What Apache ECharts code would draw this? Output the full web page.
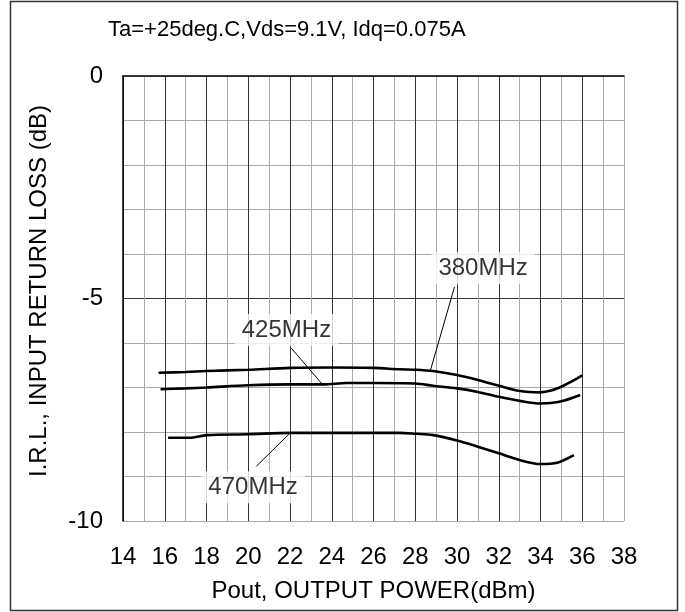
<!DOCTYPE html>
<html>
<head>
<meta charset="utf-8">
<script src="https://cdn.jsdelivr.net/npm/echarts@6/dist/echarts.min.js"></script>
<style>
html,body{margin:0;padding:0;background:#fff;}
#c{width:685px;height:612px;}
</style>
</head>
<body>
<div id="c"></div>
<script>
// ---- data ----
var titleText = 'Ta=+25deg.C,Vds=9.1V, Idq=0.075A';
var xName = 'Pout, OUTPUT POWER(dBm)';
var yName = 'I.R.L., INPUT RETURN LOSS (dB)';
var xMin = 14, xMax = 38;
var yMin = -10, yMax = 0;

var s380 = [[15.7,-6.67],[17,-6.65],[18,-6.63],[20,-6.6],[22,-6.56],[24,-6.55],[26,-6.56],[27.25,-6.59],[28,-6.6],[28.85,-6.63],[30,-6.72],[31,-6.83],[32,-6.96],[33,-7.08],[34,-7.11],[34.5,-7.07],[35.1,-6.96],[35.5,-6.86],[36,-6.73]];
var s425 = [[15.8,-7.04],[17,-7.02],[18,-7.0],[20,-6.95],[22,-6.93],[23.6,-6.93],[24.7,-6.9],[26,-6.9],[28,-6.91],[28.85,-6.96],[30,-7.02],[31,-7.1],[32,-7.21],[33,-7.3],[34,-7.36],[34.5,-7.35],[35.1,-7.3],[35.9,-7.17]];
var s470 = [[16.16,-8.13],[17.2,-8.13],[18,-8.07],[20,-8.05],[22,-8.02],[24,-8.02],[26,-8.02],[27.25,-8.02],[28,-8.04],[28.85,-8.07],[30,-8.19],[31,-8.33],[32,-8.48],[33,-8.63],[34,-8.72],[34.8,-8.69],[35.6,-8.52]];

var labelNames = ['380MHz','425MHz','470MHz'];
var labelPos = [[31.25,-4.32],[21.83,-5.71],[20.23,-9.24]];
var leader380 = [[29.88,-4.74],[28.73,-6.61]];
var leader425 = [[22.07,-6.12],[23.55,-6.93]];
var leader470 = [[21.99,-8.03],[20.39,-8.77]];

// ---- chart ----
var FONT = 'Liberation Sans, Arial, sans-serif';
var DARK = '#333', GRAY = '#aaa';
var xColors = [];
for (var v = xMin; v <= xMax; v++) xColors.push((v % 2 === 0 && v !== xMax) ? DARK : GRAY);
var yColors = [];
for (var w = yMin; w <= yMax; w++) yColors.push(w === -5 ? DARK : GRAY);

function curve(d){
  return {type:'line', data:d, smooth:0.3, showSymbol:false, symbol:'none',
    lineStyle:{color:'#000', width:2.6}, z:5, silent:true};
}
function leader(d){
  return {type:'line', data:d, showSymbol:false, symbol:'none',
    lineStyle:{color:'#000', width:1}, z:6, silent:true};
}

var chart = echarts.init(document.getElementById('c'));
chart.setOption({
  animation:false,
  backgroundColor:'#fff',
  grid:{left:123, right:61, top:76, bottom:91},
  xAxis:{
    type:'value', min:xMin, max:xMax, interval:1,
    name:xName, nameLocation:'middle', nameGap:58,
    nameTextStyle:{fontFamily:FONT, fontSize:24, color:'#000'},
    axisLine:{show:true, lineStyle:{color:'#000', width:1.5}},
    axisTick:{show:false},
    axisLabel:{fontFamily:FONT, fontSize:24, color:'#000', margin:24,
      formatter:function(v){return v % 2 === 0 ? String(v) : '';}},
    splitLine:{show:true, lineStyle:{color:xColors, width:1}}
  },
  yAxis:{
    type:'value', min:yMin, max:yMax, interval:1,
    axisLine:{show:true, lineStyle:{color:'#000', width:1.5}},
    axisTick:{show:false},
    axisLabel:{fontFamily:FONT, fontSize:24, color:'#000', margin:20,
      formatter:function(v){return v % 5 === 0 ? String(v) : '';}},
    splitLine:{show:true, lineStyle:{color:yColors, width:1}}
  },
  graphic:[
    {type:'rect', shape:{x:10.5, y:1.5, width:667, height:609},
      style:{fill:null, stroke:'#333', lineWidth:1.5}, z:100},
    {type:'text', x:108, y:30,
      style:{text:titleText, font:'22px Liberation Sans, Arial, sans-serif', fill:'#000',
        textAlign:'left', textVerticalAlign:'middle'}, z:100},
    {type:'text', x:39, y:291, rotation:Math.PI/2,
      style:{text:yName, font:'24px Liberation Sans, Arial, sans-serif', fill:'#000',
        textAlign:'center', textVerticalAlign:'middle'}, z:100}
  ],
  series:[
    curve(s380), curve(s425), curve(s470),
    leader(leader380), leader(leader425), leader(leader470),
    {type:'scatter', symbolSize:1, itemStyle:{color:'rgba(0,0,0,0)'}, z:4, silent:true,
      data:labelPos.map(function(p,i){return {value:p, name:labelNames[i]};}),
      label:{show:true, position:'inside', formatter:'{b}', fontFamily:FONT, fontSize:24,
        color:'#000', backgroundColor:'#fff', padding:[4,7,4,7]}}
  ]
});
</script>
</body>
</html>
